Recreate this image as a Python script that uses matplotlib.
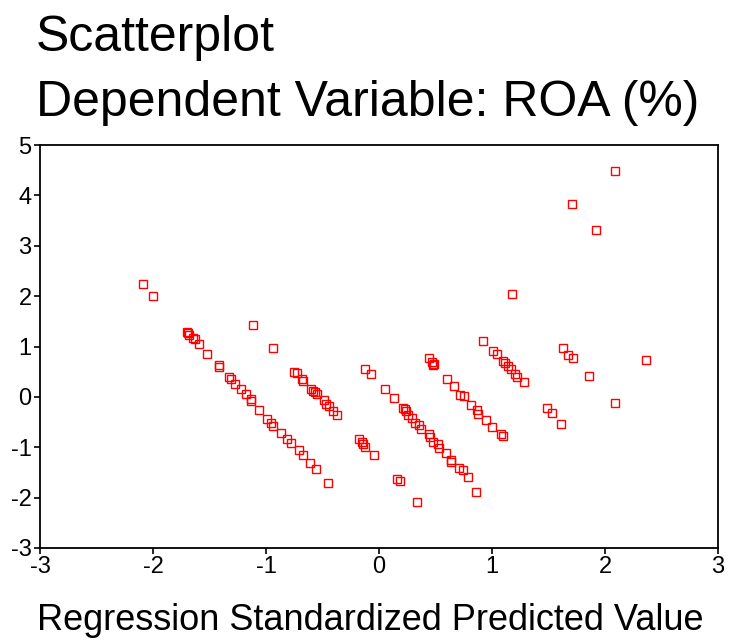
import matplotlib
matplotlib.use("Agg")
import matplotlib.pyplot as plt

plt.rcParams.update({
    'font.family': ['Liberation Sans', 'DejaVu Sans'],
    'axes.unicode_minus': False,
})

# standardized predicted value (x) vs ROA (y)
pred_std = [
    -2.09, -2.00, -1.115, -0.935,
    # first diagonal band
    -1.70, -1.69, -1.68, -1.65, -1.63, -1.59, -1.52, -1.42, -1.42, -1.33, -1.31,
    -1.27, -1.22, -1.18, -1.13, -1.13, -1.06, -0.99, -0.96, -0.935, -0.87,
    -0.81, -0.78, -0.71, -0.67, -0.61, -0.56, -0.45,
    # second band
    -0.75, -0.73, -0.68, -0.67, -0.60, -0.58, -0.57, -0.55, -0.49, -0.47,
    -0.44, -0.41, -0.37,
    # cluster near zero
    -0.12, -0.07, 0.05, 0.13, -0.18, -0.15, -0.14, -0.12, -0.04, 0.16, 0.19, 0.34,
    # long band
    0.215, 0.23, 0.24, 0.26, 0.295, 0.32, 0.35, 0.37, 0.44, 0.45, 0.475, 0.52,
    0.53, 0.59, 0.64, 0.64, 0.71, 0.74, 0.785, 0.86,
    # upper band
    0.44, 0.47, 0.48, 0.49, 0.60, 0.66, 0.72, 0.75, 0.81, 0.865, 0.88, 0.95,
    1.00, 1.08, 1.095,
    # right side
    1.18, 0.92, 1.01, 1.04, 1.095, 1.115, 1.145, 1.17, 1.20, 1.225, 1.28,
    1.625, 1.67, 1.72, 1.86, 1.49, 1.53, 1.61,
    2.09, 1.705, 1.92, 2.36, 2.09,
]

roa = [
    2.24, 2.00, 1.42, 0.98,
    1.29, 1.26, 1.23, 1.16, 1.14, 1.05, 0.85, 0.63, 0.59, 0.39, 0.35,
    0.25, 0.15, 0.05, -0.05, -0.09, -0.26, -0.44, -0.51, -0.58, -0.71,
    -0.84, -0.91, -1.05, -1.15, -1.32, -1.43, -1.70,
    0.50, 0.48, 0.36, 0.32, 0.15, 0.12, 0.09, 0.05, -0.07, -0.14,
    -0.19, -0.29, -0.36,
    0.56, 0.46, 0.15, -0.03, -0.84, -0.89, -0.94, -0.99, -1.15, -1.63, -1.67, -2.08,
    -0.22, -0.25, -0.28, -0.36, -0.42, -0.51, -0.56, -0.63, -0.74, -0.79, -0.89, -0.93,
    -1.02, -1.12, -1.25, -1.30, -1.42, -1.45, -1.60, -1.88,
    0.77, 0.70, 0.63, 0.66, 0.35, 0.22, 0.04, 0.02, -0.16, -0.26, -0.34, -0.46,
    -0.60, -0.74, -0.77,
    2.04, 1.11, 0.91, 0.85, 0.71, 0.67, 0.62, 0.55, 0.46, 0.39, 0.29,
    0.98, 0.83, 0.77, 0.42, -0.22, -0.33, -0.54,
    4.48, 3.82, 3.31, 0.73, -0.13,
]

x_ticks = [-3, -2, -1, 0, 1, 2, 3]
y_ticks = [-3, -2, -1, 0, 1, 2, 3, 4, 5]

W, H = 729, 641
fig = plt.figure(figsize=(W / 100, H / 100), dpi=100)
ax = fig.add_axes([40 / W, 1 - 548 / H, (718 - 40) / W, (548 - 145) / H])

ax.plot(pred_std, roa, linestyle='none', marker='s', markersize=5.8,
        markerfacecolor='none', markeredgecolor='#ff0000', markeredgewidth=1.0)

ax.set_xlim(-3, 3)
ax.set_ylim(-3, 5)
ax.set_xticks(x_ticks)
ax.set_yticks(y_ticks)
ax.tick_params(direction='out', length=4, width=1.2, labelsize=17, pad=2)
for s in ax.spines.values():
    s.set_linewidth(1.3)
    s.set_color('black')

fig.text(36 / W, 1 - 38 / H, "Scatterplot", fontsize=36, ha='left', va='center')
fig.text(36 / W, 1 - 103 / H, "Dependent Variable: ROA (%)", fontsize=36,
         ha='left', va='center')
fig.text(37 / W, 1 - 621 / H, "Regression Standardized Predicted Value",
         fontsize=26, ha='left', va='center')

fig.savefig("out.png", dpi=100)
